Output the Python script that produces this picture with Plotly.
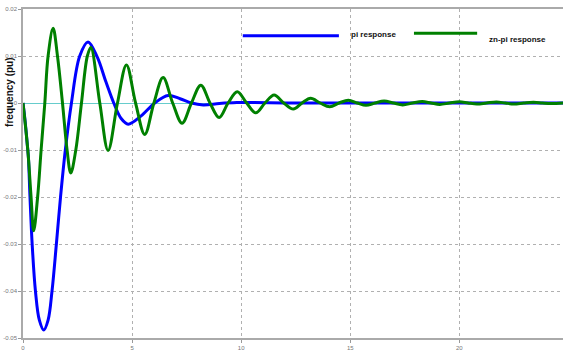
import plotly.graph_objects as go

# time (s) and frequency deviation (pu)
pi_t = [0, 0.1, 0.2, 0.25, 0.32, 0.42, 0.57, 0.75, 0.95, 1.15, 1.33, 1.53, 1.72, 1.94, 2.22,
        2.6, 2.98, 3.4, 3.8, 4.16, 4.5, 4.82, 5.4, 6.04, 6.65, 7.2, 7.72, 8.26, 9.0, 9.8,
        10.6, 12.0, 14.0, 17.0, 20.0, 24.75]
pi_y = [0, -0.004, -0.009, -0.0117, -0.02, -0.03, -0.04, -0.0462, -0.0483, -0.0462, -0.04,
        -0.03, -0.02, -0.01, 0, 0.01, 0.013, 0.0098, 0.0045, 0, -0.0033, -0.0045, -0.0028, 0,
        0.0016, 0.0009, 0, -0.0004, -0.0001, 0.0001, 0.0001, 0, 0, 0, 0, 0]

zn_t = [0, 0.22, 0.37, 0.49, 0.67, 0.83, 1.0, 1.15, 1.38, 1.58, 1.81, 2.02, 2.19, 2.42, 2.68,
        2.95, 3.11, 3.52, 3.90, 4.33, 4.74, 5.16, 5.58, 6.0, 6.42, 6.86, 7.29, 7.72, 8.15,
        8.57, 8.99, 9.4, 9.82, 10.25, 10.67, 11.09, 11.51, 11.95, 12.39, 12.79, 13.18, 13.62,
        14.06, 14.49, 14.91, 15.32, 15.72, 16.14, 16.55, 16.98, 17.4, 17.85, 18.3, 18.7,
        19.1, 19.55, 20.0, 20.4, 20.8, 21.25, 21.7, 22.1, 22.5, 22.95, 23.4, 23.8, 24.2, 24.75]
zn_y = [0, -0.01, -0.02, -0.0272, -0.02, -0.01, 0, 0.01, 0.0159, 0.01, 0, -0.01, -0.0149,
        -0.01, 0, 0.01, 0.0118, 0, -0.0101, 0, 0.0081, 0, -0.0067, 0, 0.0054, 0, -0.0043, 0,
        0.0038, 0, -0.0031, 0, 0.0024, 0, -0.0021, 0, 0.0017, 0, -0.0013, 0, 0.0010, 0,
        -0.0008, 0, 0.0006, 0, -0.0005, 0, 0.0004, 0, -0.0004, 0, 0.0003, 0, -0.0003, 0,
        0.00025, 0, -0.0002, 0, 0.0002, 0, -0.0002, 0, 0.00015, 0, -0.00012, 0]

x_ticks = [0, 5, 10, 15, 20]
y_ticks = [0.02, 0.01, 0, -0.01, -0.02, -0.03, -0.04, -0.05]
y_ticktext = ["0.02", "0.01", "0", "-0.01", "-0.02", "-0.03", "-0.04", "-0.05"]

fig = go.Figure()
fig.add_trace(go.Scatter(x=pi_t, y=pi_y, mode="lines", name="pi response",
                         line=dict(color="#0000ff", width=3, shape="spline", smoothing=1.0)))
fig.add_trace(go.Scatter(x=zn_t, y=zn_y, mode="lines", name="zn-pi response",
                         line=dict(color="#008000", width=3, shape="spline", smoothing=1.0)))

tickfont = dict(family="Liberation Sans, Arial, sans-serif", size=6, color="#777777")
fig.update_layout(
    width=563, height=350,
    margin=dict(l=23, r=0, t=9, b=12),
    paper_bgcolor="white", plot_bgcolor="white",
    showlegend=False,
    xaxis=dict(range=[0, 24.75], tickvals=x_ticks, ticks="outside", ticklen=3,
               tickcolor="#999999", tickfont=tickfont, showgrid=True, automargin=False,
               gridcolor="#b0b0b0", griddash="dot", gridwidth=1, zeroline=False,
               showline=True, linecolor="#aaaaaa", linewidth=1.5, mirror=True),
    yaxis=dict(range=[-0.05, 0.02], tickvals=y_ticks, ticktext=y_ticktext, automargin=False,
               ticks="outside", ticklen=3, tickcolor="#999999", tickfont=tickfont,
               showgrid=True, gridcolor="#b0b0b0", griddash="dot", gridwidth=1,
               zeroline=True, zerolinecolor="#66cccc", zerolinewidth=1,
               showline=True, linecolor="#aaaaaa", linewidth=1.5, mirror=True),
)

lab_font = dict(family="Liberation Sans, Arial, sans-serif", size=8, color="#111111")
fig.add_annotation(text="<b>frequency (pu)</b>", xref="paper", yref="paper", x=0, y=0.745,
                   xshift=-13, yanchor="middle", xanchor="center", textangle=-90,
                   showarrow=False,
                   font=dict(family="Liberation Sans, Arial, sans-serif", size=10, color="#111111"))
# legend keys
fig.add_shape(type="line", xref="paper", yref="paper", x0=0.407, x1=0.585, y0=0.919, y1=0.919,
              line=dict(color="#0000ff", width=3))
fig.add_shape(type="line", xref="paper", yref="paper", x0=0.724, x1=0.841, y0=0.926, y1=0.926,
              line=dict(color="#008000", width=3))
fig.add_annotation(text="<b>pi response</b>", xref="paper", yref="paper", x=0.603, y=0.921,
                   xanchor="left", yanchor="middle", showarrow=False, font=lab_font)
fig.add_annotation(text="<b>zn-pi response</b>", xref="paper", yref="paper", x=0.859, y=0.906,
                   xanchor="left", yanchor="middle", showarrow=False, font=lab_font)

fig.write_html("out.html", config={"displayModeBar": False},
               post_script="document.body.style.margin='0px';")
